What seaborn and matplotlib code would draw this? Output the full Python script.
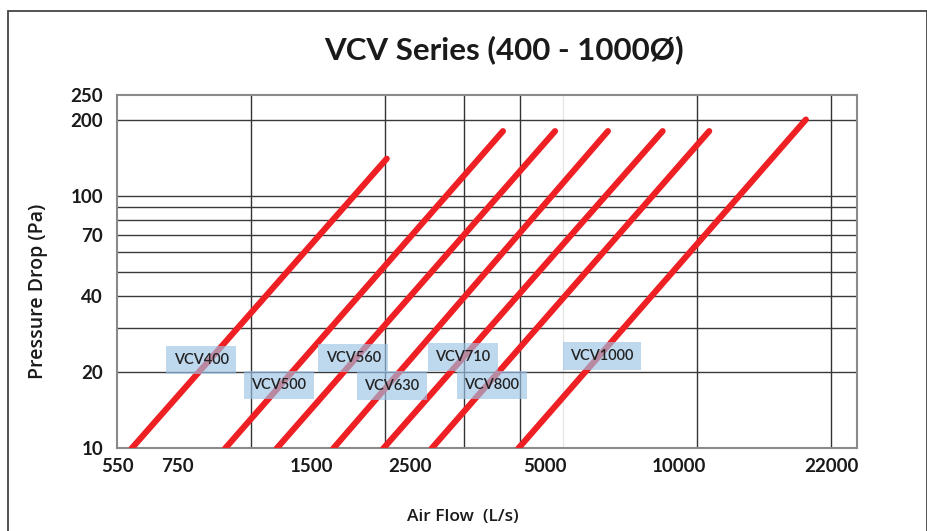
import matplotlib
matplotlib.use('Agg')
import matplotlib.pyplot as plt
from matplotlib.patches import Rectangle
from matplotlib.ticker import FixedLocator, NullLocator, FixedFormatter
import numpy as np
import pandas as pd
import seaborn as sns

# values
models = ['VCV400', 'VCV500', 'VCV560', 'VCV630', 'VCV710', 'VCV800', 'VCV1000']
flow_start = [593, 961, 1254, 1680, 2175, 2792, 4367]
flow_end = [2214, 4035, 5281, 6938, 9203, 11705, 19285]
dp_start = [10, 10, 10, 10, 10, 10, 10]
dp_end = [140, 180, 180, 180, 180, 180, 200]

label_flow = [849, 1269, 1861, 2275, 3283, 3813, 6727]
label_dp = [22.4, 17.85, 22.8, 17.7, 23.0, 17.85, 23.25]

x_ticks = [550, 750, 1500, 2500, 5000, 10000, 22000]
y_ticks = [10, 20, 40, 70, 100, 200, 250]
x_grid = [1100, 2200, 3300, 4400, 11000, 22000]
x_grid_faint = [5500]
y_grid = [20, 30, 40, 50, 60, 70, 80, 90, 100, 200]

# long table for seaborn
rows = []
for m, f0, f1, p0, p1 in zip(models, flow_start, flow_end, dp_start, dp_end):
    rows.append({'model': m, 'flow': f0, 'dp': p0})
    rows.append({'model': m, 'flow': f1, 'dp': p1})
df = pd.DataFrame(rows)

sns.set_theme(style='white')
plt.rcParams['font.family'] = ['Lato', 'DejaVu Sans']

fig = plt.figure(figsize=(9.28, 5.31), dpi=100)
ax = fig.add_axes([0.1261, 0.1554, 0.924 - 0.1261, 0.821 - 0.1554])

ax.set_xscale('log')
ax.set_yscale('log')
ax.set_xlim(550, 25170)
ax.set_ylim(10, 250)

for v in x_grid:
    ax.axvline(v, color='#333333', lw=1.0, zorder=1)
for v in x_grid_faint:
    ax.axvline(v, color='#e6e6e6', lw=1.0, zorder=1)
for v in y_grid:
    ax.axhline(v, color='#3a3a3a', lw=1.0, zorder=1)

sns.lineplot(data=df, x='flow', y='dp', units='model', estimator=None,
             color='#ee2024', lw=4.4, ax=ax, zorder=3,
             solid_capstyle='round', legend=False)

for m, fx, py in zip(models, label_flow, label_dp):
    ax.text(fx, py, m, ha='center', va='center', fontsize=10.5,
            color='#222222', family='Lato', fontweight='semibold', zorder=5,
            bbox=dict(boxstyle='square,pad=0.5', facecolor='#9cc3e6',
                      edgecolor='none', alpha=0.65))

ax.xaxis.set_major_locator(FixedLocator(x_ticks))
ax.xaxis.set_major_formatter(FixedFormatter([str(v) for v in x_ticks]))
ax.xaxis.set_minor_locator(NullLocator())
ax.yaxis.set_major_locator(FixedLocator(y_ticks))
ax.yaxis.set_major_formatter(FixedFormatter([str(v) for v in y_ticks]))
ax.yaxis.set_minor_locator(NullLocator())
ax.tick_params(axis='both', length=0, labelsize=13.5, colors='#1a1a1a')
ax.tick_params(axis='x', pad=7)
ax.tick_params(axis='y', pad=10)
for lab in ax.get_xticklabels() + ax.get_yticklabels():
    lab.set_fontweight('bold')

for s in ax.spines.values():
    s.set_color('#8a8a8a')
    s.set_linewidth(1.5)
ax.set_xlabel('')
ax.set_ylabel('')

fig.text(0.543, 0.906, 'VCV Series (400 - 1000Ø)', ha='center', va='center',
         fontsize=22.5, fontweight='bold', color='#1a1a1a')
fig.text(0.041, 0.452, 'Pressure Drop (Pa)', rotation=90, ha='center',
         va='center', fontsize=14, fontweight='semibold', color='#1a1a1a',
         family=['Open Sans', 'DejaVu Sans'])
fig.text(0.499, 0.026, 'Air Flow  (L/s)', ha='center', va='center',
         fontsize=12.5, fontweight='semibold', color='#1a1a1a',
         family=['Open Sans', 'DejaVu Sans'])

fig.add_artist(Rectangle((8 / 928, -0.05), 919 / 928, 1.0293,
                         transform=fig.transFigure, fill=False,
                         edgecolor='#444444', lw=1.3))

fig.savefig('out.png', dpi=100)
